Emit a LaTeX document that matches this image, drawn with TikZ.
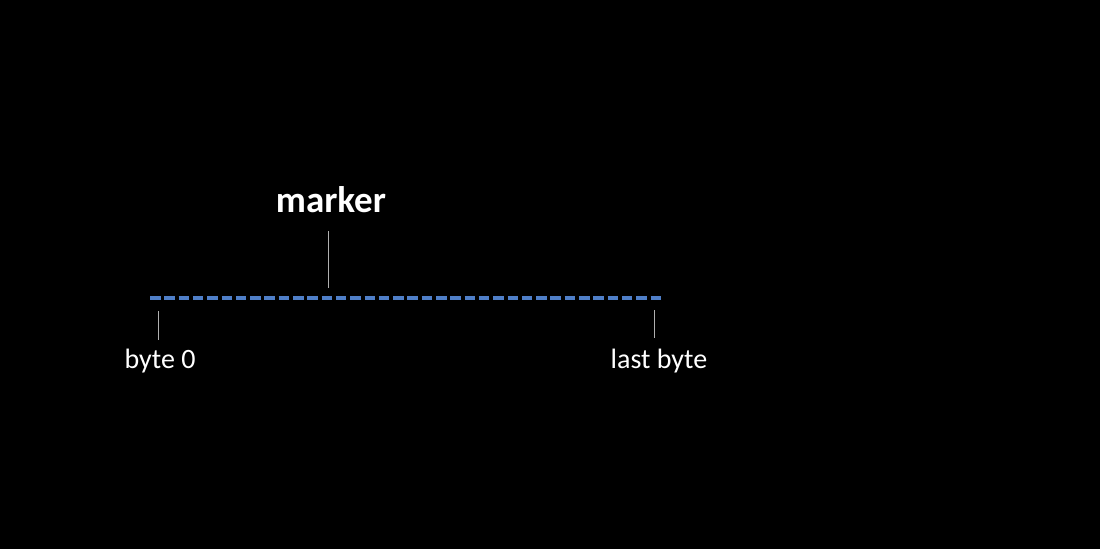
\documentclass[tikz,border=0pt]{standalone}
\usepackage{fontspec}
\setmainfont{Carlito}
\definecolor{dashblue}{HTML}{4F7FC8}
\definecolor{tickgray}{HTML}{B0B0B0}
\begin{document}
\begin{tikzpicture}[x=1pt,y=-1pt,
  lbl/.style={text=white,inner sep=0pt,anchor=base,font=\fontsize{28}{30}\selectfont},
  title/.style={text=white,inner sep=0pt,anchor=base,font=\bfseries\fontsize{37}{40}\selectfont},
  tick/.style={draw=tickgray,line width=1pt},
  bar/.style={draw=dashblue,line width=3.6pt,dash pattern=on 10.5pt off 3.8pt}]
\fill[black] (0,0) rectangle (1100,549);
\useasboundingbox (0,0) rectangle (1100,549);
\node[title] (marker) at (331,212) {marker};
\node[lbl] (b0) at (160,368) {byte 0};
\node[lbl] (lb) at (659,368) {last byte};
\coordinate (l0) at (150,298);
\coordinate (l1) at (662,298);
\draw[bar] (l0) -- (l1);
\coordinate (mt) at (328,231);
\coordinate (mb) at (328,288);
\draw[tick] (mt) -- (mb);
\coordinate (bt) at (158,311);
\coordinate (bb) at (158,340);
\draw[tick] (bt) -- (bb);
\coordinate (lt) at (654,310);
\coordinate (lbb) at (654,338);
\draw[tick] (lt) -- (lbb);
\end{tikzpicture}
\end{document}
